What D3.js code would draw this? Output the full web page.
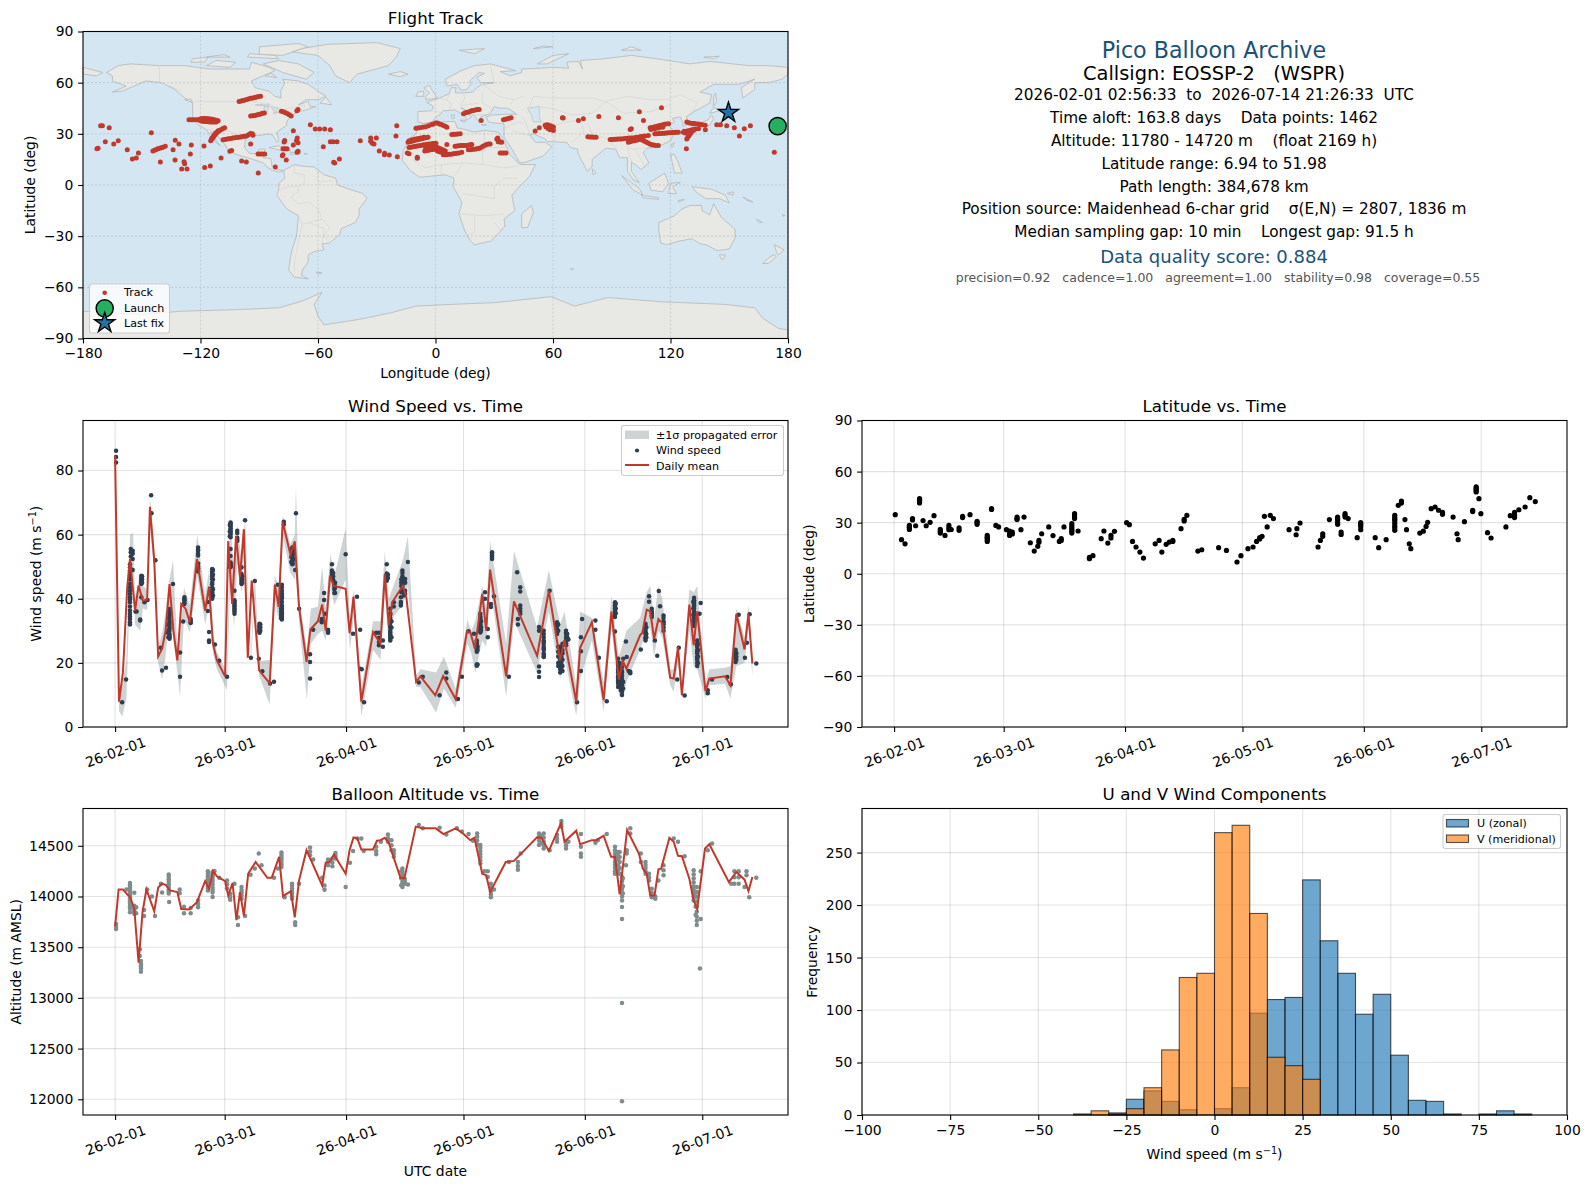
<!DOCTYPE html>
<html>
<head>
<meta charset="utf-8">
<script src="https://cdn.jsdelivr.net/npm/d3@7"></script>
<style>
  html, body { margin: 0; padding: 0; background: #fff; }
  svg text { font-family: "DejaVu Sans", sans-serif; fill: #000; }
</style>
</head>
<body>
<svg id="fig" width="1589" height="1189"></svg>
<script>
// ---- values ----
const dateTicks = ["2026-02-01", "2026-03-01", "2026-04-01", "2026-05-01", "2026-06-01", "2026-07-01"];
const lonTicks = [-180, -120, -60, 0, 60, 120, 180];
const latTicks = [-90, -60, -30, 0, 30, 60, 90];
const windTicks = [0, 20, 40, 60, 80];
const altTicks = [12000, 12500, 13000, 13500, 14000, 14500];
const histXTicks = [-100, -75, -50, -25, 0, 25, 50, 75, 100];
const histYTicks = [0, 50, 100, 150, 200, 250];

const infoLines = [
  "2026-02-01 02:56:33  to  2026-07-14 21:26:33  UTC",
  "Time aloft: 163.8 days    Data points: 1462",
  "Altitude: 11780 - 14720 m    (float 2169 h)",
  "Latitude range: 6.94 to 51.98",
  "Path length: 384,678 km",
  "Position source: Maidenhead 6-char grid    σ(E,N) = 2807, 1836 m",
  "Median sampling gap: 10 min    Longest gap: 91.5 h"
];

// flight track, lon lat pairs
const trackPoints = [
  [-100.3,49],[-99.3,49.3],[-98.3,49.6],[-97.3,49.9],[-96.3,50.2],[-95.3,50.5],[-94.3,50.8],[-93.3,51],[-92.3,51.3],[-91.3,51.6],[-90.3,51.9],[-89.3,52.1],
  [-94.4,40.4],[-93.4,40.6],[-92.4,40.8],[-91.4,41],[-90.4,41.4],[-89.4,41.7],[-88.4,42],[-87.4,42.2],
  [-78.7,43.3],[-77.7,42.9],[-76.7,42.4],[-75.7,41.9],[-74.7,41.2],[-73.7,40.5],[-70.2,44.3],[-70.8,43.6],
  [-125.9,38.2],[-124.9,38.3],[-123.9,38.3],[-122.9,38.2],[-121.9,38.2],[-120.9,38.2],[-119.9,38.9],[-118.9,39],[-117.9,39],[-116.9,39],[-115.9,38.9],[-114.9,38.7],[-113.9,38.5],[-112.9,38.2],[-111.9,38],[-111,37.6],
  [-120,37.6],[-119,37.4],[-118,37.2],[-117,37.2],[-116,37.1],[-115,37],[-114,37],[-113,37],[-112,37],
  [-114.8,26],[-114.3,26.8],[-113.8,27.6],[-113.3,28.4],[-112.8,29.2],[-112.2,30],[-111.6,30.8],[-111,31.4],[-110.2,32],[-109.4,32.6],[-108.6,33.2],[-107.7,33.5],[-114.2,27.4],[-113.2,29],[-112.2,30.5],[-111,31.8],
  [-108.5,26.5],[-107.5,26.7],[-106.5,27],[-105.5,27.1],[-104.5,27.3],[-103.5,27.5],[-102.5,27.7],[-101.5,27.9],[-100.5,28],[-99.5,28.2],[-98.5,28.4],[-97.5,28.6],[-96.5,28.8],[-95.5,29.5],[-94.5,30.2],[-93.5,30],[-93.2,29.2],
  [-170.1,34.7],[-171,34.7],[-166.6,33.5],[-172.3,21.6],[-172.9,21.2],[-168.6,25.3],[-164.3,24.1],[-162,25.9],[-157.4,20.6],[-154.8,15.3],[-152.8,15.9],[-151.7,18.8],[-145.1,30.6],[-144.3,20],[-143.5,20.4],[-142.6,20.8],[-141.8,21.2],[-140.9,21.6],[-140,21.9],[-139.2,22.2],[-138,22.7],[-140.5,13.5],[-134,20.6],[-132.9,26.3],[-131,24.1],[-133,14.7],[-128.4,13.7],[-128.1,12.4],[-129.6,9.4],[-126.9,9.4],[-125.2,18.2],[-124.7,23.5],[-118.2,22.9],[-117.9,10.2],[-115,11.2],[-109.5,15.9],[-104.1,20.2],[-105,19.8],[-99,14.1],[-96.6,13.5],[-94.4,24.1],[-90.6,18.2],[-89.5,18.2],[-88.4,18.2],[-87.2,18.2],[-90.5,7],[-81.8,10.6],
  [-77,26.1],[-77.3,25.2],[-72.6,31.8],[-72.6,23.5],[-70.6,27.6],[-70.2,24.7],[-71,26],[-77.9,21.2],[-76.9,21.2],[-75.8,21.2],[-77.9,17.8],[-78.2,17.2],[-76.2,14.7],[-70.7,19.2],[-70.2,19.8],[-63.9,35.3],[-61.4,32.9],[-59.2,32.9],[-56.6,32.9],[-53.7,32.4],[-57.3,22.4],[-53.7,25.3],[-52.3,25.3],[-50.3,25.3],[-52,13.3],[-51.5,12.9],[-49.1,15.3],[-38.4,25.9],[-33.1,27.6],[-33.1,25.7],[-32.3,24.5],[-31.4,24.1],[-30.2,27.6],[-28.7,20],[-26.1,17.8],[-26,18.6],[-23.6,17.6],[-19.8,34.7],[-20.2,28.8],[-19.5,16.5],
  [-14.4,18.8],[-13.5,18.3],[-9.3,16.3],[-9.3,15.7],
  [-10,33.3],[-9,33.4],[-8,33.6],[-6.5,33.8],[-5,34.2],[-3.5,34.7],[-2,35.5],[-1,35.8],[0,36.3],[1,36.3],[2,35.8],[3,35.4],[4,34.9],[5,34.4],[5.8,33.9],
  [-14,25],[-12.8,25.4],[-11.6,25.8],[-10.4,26.2],[-9.2,26.5],[-8,26.8],[-6.8,27.1],[-5.6,27.5],[-4.6,27.8],[-3.8,28],[-13.5,26],[-12,26.5],[-10.5,27],[-9,27.2],[-7.5,27.6],[-6,28],
  [-13.5,22],[-12.5,22.2],[-11.5,22.4],[-10.5,22.6],[-9.5,22.8],[-8.5,23],[-7.5,23.2],[-6.5,23.4],[-5.5,23.6],[-4.5,23.8],[-3.5,24],[-2.5,24.1],[-1.5,24.3],[-0.5,24.4],[0.2,24.5],
  [-5.5,20],[-4.5,20.2],[-3.5,20.4],[-2.5,20.6],[-1.5,20.8],[-0.5,21],[0.2,21.4],[-5,21.5],[-4,21.7],[-3,22],[-2,22],[-1,22.2],[0,22.2],[1,22],[2,21.5],[3,21],[4,20.5],[5,20],[1,20],[2,19.5],[3,19.2],[4,19],
  [4,17.8],[5,17.8],[6,17.9],[7,18],[8,18.1],[9,18.3],[10,18.4],[11,18.6],[12,18.8],[13.4,19.2],[5.8,23.7],
  [10,22.7],[11,22.9],[12,23],[13,23.1],[14,23.1],[15,23.2],[16,23.2],[17,23.4],[18,23.6],[18.5,23.7],
  [16.8,20.6],[18,20.7],[19,20.9],[20,21],[21,21.2],[22,21.4],[23,21.9],[24,22.6],[25,23.2],[26,23.7],[27,24],[27.9,24.1],
  [8.3,29.6],[9.3,29.7],[10.3,29.8],[11.3,29.9],[12.6,30],
  [14.3,41.8],[15.3,42.3],[16.3,42.7],[17.3,43],[18.3,43.5],[19.3,43.7],[20.3,44],[21.3,44.2],[22.3,44.3],[23.3,37.8],
  [34.7,38.2],[35.7,38.5],[36.7,38.8],[37.7,39.2],[38.6,39.4],
  [31.3,27],[31.8,27.6],[32.3,26],[33,25.2],[33.8,25],[32,25.4],[33,18.8],[34,18.8],[35,18.8],[36,18.8],
  [50.9,31.6],[53,33.5],[56,35],[57,35.3],[58,35],[59,34.6],[60.2,34],[56.5,34],[57.5,33.2],[58.5,32.4],[60.2,32],[64.8,39.4],[65.2,39.3],[73,37.8],[75.5,38.8],[83.4,40.2],[93.4,39.4],[104.1,43],[106.2,37.8],[115.4,45.3],[99.4,32.5],[100,33],
  [77.8,28.3],[78.8,28.2],[79.8,28.1],[80.8,28],[82,28],
  [89.2,26.7],[90.2,26.7],[91.2,26.8],[92.2,26.8],[93.2,26.9],[94.2,27],[95,27],[96,27.1],[97,27.3],[98,27.4],[99,27.5],[100,27.5],[101,27.6],[102,27.8],[103,28],[104,28.2],[105,28.4],[106,28.6],[107,28.8],[108.7,29],
  [98.5,25],[99.5,25.3],[100.5,25.8],[101.5,26],[102.5,26.2],[103.5,26.6],[104.5,27],[105.5,26.4],[106.5,25.8],[107.5,25.2],[108.5,24.6],[109.5,24],[110.5,23.6],[111.5,23.4],[112.5,23.2],[113.8,23.1],
  [109.6,33.5],[110.6,33.7],[111.6,34],[112.6,34.3],[113.6,34.6],[114.6,34.9],[115.6,35.2],[116.6,35.5],[117.6,35.7],[119,35.9],[110,32.5],[112,33],[114,33.4],[116,33.8],
  [112,30],[113,30],[114,30.2],[115,30.2],[116,30.4],[117,30.4],[118,30.5],[119,30.6],[120,30.6],[121,30.8],[122,30.8],[123,31],[124,31],
  [126.6,31],[127.6,31.3],[128.6,31.6],[129.6,32],[130.6,32.3],[131.6,32.6],[132.6,32.8],[134.3,33],
  [128.3,36.9],[129.3,36.5],[130.3,36.2],[131.3,36],[132.3,36],[133.3,35.8],[134.3,35.7],[135.3,35.5],[136.3,35.3],[137.7,35],
  [128.3,27],[128.8,28],[129.3,28.8],[129.8,29.6],[130.3,30.4],[130.8,31.2],[131.7,32],[127.5,30.5],[127,31.5],[128.1,21.2],
  [143.6,35.3],[145.5,35.3],[148.7,34.7],[152.6,33.5],[155.2,28.8],[157.7,33],[160.8,34.7],[173,19.2],[137.8,32.4]
];
const launchPoint = [174.7, 34.5];
const lastFixPoint = [149.6, 42.4];

// wind speed: day of flight, then the speeds seen in that column
const windDots = [
  [0.25,86.2,84.2,82.5],[1.8,7.7],[2.8,14.8],[3.8,50.8,49.8,48.8,48,47.2,46,44.6,43.6,42.5,41.5,40.5,39.8,38.9,37.6,36.3,35.3,34.5,33.7,32.7,32],[4,55.5,54.5,53.2],[4.5,55,54,52.4,49],
  [5.2,36],[5.5,36],[6.4,33.5,33.2],[6.7,47.2,46.5,46,45.5,45,44.6,40.5],[6.9,47,46,45],[7.5,38.9],[8.3,39.6],[9.2,72.3],[9.3,66.7],[10.3,52],[11.7,24.7],[12,17.6],[13,18.5],
  [13.9,36.8,36,35,34,33,32.2,31.5,30.8,30,29,28.5,28,27.5],[13.6,34,32,30,28],[13.4,29.5],[14.8,44.6],[16.6,23.2,15.7],[17.4,32.9],[17.7,40.5,39.8,39.5,38.8,38.4],[19.3,33.7,33.2,32.7,32.4],
  [21.2,56,55.3,55,54,53.5,51,50,49.5,49,48.5],[23.7,39,36.2],[24,29.6,27,26.5],[24.8,49.3,48.6,48,47.4,47,46.5,46,45,44.5,43.5,42.5,42,41.5,41,40.5,40],[25,49,47.5,46,43,41],[25.5,25.7],[26.6,20.7],[28.6,15.7],
  [29.5,63.8,63.4,63,62.5,62,61.5,61,60.5,60,59.2,55.5,53.3,51.3,50.9,50.5,50.2,49.8],[29.3,63,61,59.5,51,50],[30.5,42.5,39.5,39,38.5,38,37.5,37,36.5,36,35.3],[31.2,61.2,60.5,59,58.5,58],[32.3,49.8,47.7,47,46.5,46,45.5,45,44.6],[32.5,47,46,45],[33.2,64.5],
  [34.7,21.6],[35.7,45.5],[36.7,21.3],[36.9,32.2,31.8,31.4,31,30.6,30.2,29.8,29.4],[37.1,32,31,30],[37.6,17.4],[39.6,13.6],[40.6,14.1],[41.6,44.4],
  [42.6,44.4,43.5,42.5,41.7,41,40.5,40,39,38,37.5,37,36.5,36,35.5,35,34.5,34,33.5],[42.4,36,35,34,37],[43.1,64,63.2],[45.3,56,55.5,55,54.3,53.5,52.7,52,51.5,51,50.8],[45,55,53,51.5],[45.6,54,52.5,55],[46,49],[46.2,66.7],[47,36.9],[49.8,22.7,20.3,15.1],[50.6,30.3],
  [52.8,33.7,33.2,33,32.7],[53.4,41.8,39.6],[53.6,35.3],[54.4,30.3,29.8,29.4],[55.4,50.8,48.8,48.3,47.8,47.4,47,46.5],[55.7,48,47,46],[56,45.1,44.5,44,43,41.8],[56.2,45,43.5,41.8],[58.9,53.9],[60.8,29.1],[61.8,40.6],
  [62.6,30.3,18.2],[63,18],[63.6,7.7],[66.7,29.4],[67.4,29.4,27.8,26.5,25.5],[68.4,27,25],[69.4,50.8,47.9,47.4,47,46.5,46,45.6],[69.7,47.5,46.5],[70.3,36.9,35.5,35,34,33,32.5,31.5,31,30,29.5,29,28.5,28,27.5,27],[70.6,33,31,28],[71.2,38.9,37.6],
  [73,40.5,39,38.5,37.9],[73.4,48.8,48,47,46.5,46,45.5,45,44.5,44,43,42.5],[73.1,46,45,44,42],[74.1,46.2,45,42.5,41.5],[73.8,42,41],[74.8,51.5],[77.6,13.9],[78.6,15.7],
  [82.9,9.9],[84.6,17,15.1],[87.6,8.7],[88.6,15.7],[90.3,29.9],[91.7,29.1],[92.4,27,26.5,26,25.5,25,24.5,24,23.5,19.5,19.1],[92.6,25,24,19.5],[93.3,35.3,34.5,34,33.5,33,32.5,32,31.5,31,30.5,30,29.5],[93.5,33,31,30],[94.5,42,40],[95.2,30.6,28],
  [96,38.4,37.4],[96.3,54.5,54,53.5,53,52.4],[96.8,40.8],[100.6,15.7],[102.7,48.3],[102.9,33.7,32],[103.5,43.6,42.3,37.9,37,36,35.3],
  [108.3,31.2,30,18.9,17.2,15.6],[109.5,30,29,28,27,26.5,26,25,24.5,24,23,22.5,22,21.8],[111,42.5],[112.9,32.7,32,31.5,30.5,29.5,29],[113.2,32,30],[113.7,25,24,23,22,21,20,19,18,17],[113.2,25,23.5,22,20,19],[114.3,26,24,23,21,19,17.5],[114,24,22,20,18],
  [115.2,30,29.5,29,28,27,26,25.5],[115.5,29,28],[115.8,27.3],[118,7.7],[119,28,23.6,17.5],[119.3,33.7],[122.7,33.2,30.3],[123.6,21.6],[125.6,8],[127.7,38.9,38.4,38,37.5,37,36.5,36,35,34.3,29.8],[127.9,38.5,37,35.5],
  [128.5,21.3,20,19.4,19,18,17.5,17,16,15.5,15,14.5,14,13.5,12.5],[128.9,20,18.5,16.5,15,13.5],[129.5,18.7,17.5,17,16,15,14.5,13.5,13,12,11,10],[129.2,17,15,13,11.5],[129.8,21.3,14,12],[130.5,26.7],[130.7,21.8],[131.2,17.5],[131.6,17.2,16.8],[134.3,24.2],
  [135.5,32.2,31.5,31,30,29.5,29,28,27.5,27],[135.7,31,29,28],[136.4,40.8,39.1],[137.1,36.9,36,35.5,34.8,34.3],[137.9,27],[138.5,22.2],[138.9,42.4],[139.2,37.7],[140.1,34.8,34,33,32.5,32,31,30],
  [143.6,14.8],[144,24.7],[145.5,9.8],[147.9,40.3,39.5,39,38.5,38,37.5,37,36,35,34,33,32,31.5],[147.7,39,37,35],[148.7,27,26,25.5,25,24,23.5,23,22,21.5,21,20,19],[148.9,26,24,22,20],[149.3,35.3],[149.6,38.7],[151.4,11.5,10.5],[152.5,14.8],
  [156.4,15.6],[157.3,13.3],[158.5,24.1,23.5,23,22.5,22,21.3,20.3],[158.7,23,22,21],[159.3,35],[160.9,21.6],[161.4,26.3],[162.1,35.2],[163.8,19.8]
];

const windMeanDays = [0,1,2,3.1,3.8,5.1,6,7.1,8.2,8.9,10,11,12,12.9,13.9,14.9,15.9,16.9,18,19.1,20.9,23,24,25,26,28.1,28.9,29.9,30.9,31.9,32.9,33.9,34.9,36.8,39.5,40.8,41.8,42.8,44.8,45.9,47,48.9,49.9,51.8,52.9,53.8,54.9,55.8,58.9,59.9,60.9,62.9,65.9,67.8,68.9,69.9,70.8,73.5,74.4,76.9,78,81.8,83.8,87,89.9,90.8,91.9,93.8,94.8,95.8,99.9,101.9,107.8,110.8,113.7,114.8,117.8,118.8,121.8,124.8,126.8,128.7,129.7,130.6,134.1,134.7,135.8,136.7,137.7,138.8,139.8,141.8,142.7,143.8,144.8,146.7,147.8,148.7,150.8,151.8,155.8,157.2,158.7,160.8,161.8,162.8];
const windMean = [84.5,7.9,17,43.6,52.4,36.3,44.1,39.4,39.8,68.7,51.9,22,24.4,30,44.6,30,20.8,38.4,36.9,32.7,52.4,36.3,43.8,26,20.8,15.8,58,38.4,59.6,46.7,61.7,21.6,45.7,17.7,13.6,44.4,37.4,64,53.7,57.9,37.4,20.3,30.4,33,38.2,30.1,47.2,44.1,43.1,29.3,40.7,7.9,29.6,26,47.7,31.7,38.9,44.1,40.5,14.1,15.8,9.9,15.9,8.7,29.9,29.4,24.4,41.5,30.1,49.1,15.8,39.2,22.2,42.5,20.8,27.2,7.9,24.7,32.7,8.4,36,14.8,20.6,18.2,28.6,29.4,36.6,36.1,27.5,33.7,32.4,15.4,15.1,24.9,9.9,38.2,25.5,36.1,11.2,15.1,15.8,13,35.3,24.2,35.3,19.8];

const bandDays = [0,1,1.8,2.9,3.8,4.6,5.1,6.4,7.1,8.2,8.9,10,11,12,12.9,13.9,14.8,15.9,16.6,17.6,19.1,21,23,24,25,26,28.6,29.4,30.4,31.2,32.3,33.2,34.7,35.7,36.8,39.5,40.8,41.8,42.8,44.8,45.9,46.2,47,49,50,51.8,52.9,53.8,55,56,58.9,60,61,62.9,65.9,67.8,68.9,69.9,70.8,73.5,74.8,76.9,78,82,84,87,90,91,92,93.8,94.8,95.8,99.9,101.9,107.8,110.8,113.7,114.8,117.8,118.8,121.8,124.8,126.8,128.7,129.7,130.6,134.1,135.8,136.7,137.7,138.8,139.8,141.8,142.7,143.8,144.8,146.7,147.8,148.7,150.8,151.8,155.8,157.2,158.7,160.8,161.8,162.8];
const bandLow = [80,5,3.2,9,44,45,32,30,37,36.5,62,49,20,15,22,36,28,17,9.5,34,29.5,47,32,38,23,18,11.5,46,31,51,42,60,20.5,40,16,7,40,33,60,48,46,48,33,8.5,26,29,30,27,44,38,46,24,35,3.3,24,21,42,25,34,38,44,12.5,12.5,4.5,12,6,26,23,17,27,25,44,9.5,33,17,36,15,22,3.5,15,27,5,31,10,9,14,24,30,31,22,30,28,13,11,20,9,30,19,18,9,13,13.5,9,19,20,31,16];
const bandHigh = [91,11,13,21,60,60.5,40,48,44,43,72,55,25,29,36,46,52,25,29,43.5,38,60,41,49,29,23.5,17,66.5,46,63,52,65,23,48,20.5,21,47,44,66,57,60,75,40,24,37,37.5,50,37,54,47,62,33,43,12,33,33,55,40,43,52,59.5,16,18,17,22,12,33.5,30,33,44,37,58,26,55,31,49,32,36,13,36,34,14,41,22,26,30,34,42,44,34,44,40,18,18,26,12,43,42,44,14,18,18.5,19,37,28,38,20];

// latitude: day of flight, then the latitudes seen in that column
const latDots = [
  [0.3,34.7],[1.9,20],[2.8,17.6],[3.9,28.4,27.5,27,26],[4.7,32.4,31.6],[5.5,28.2],[6.5,44.1,43.5,43,42.3,41.6],[7.4,31.2],[8.2,28.2],[9.2,30.2],[10.2,34.1],[11.8,26.1,25,23.9],[13,22.5],[14,28.4,27,25.9],[14.6,26],
  [16.6,26.9,25.5],[17.5,33.7,33],[19.4,34.7],[21.2,30.8,30,29],[23.8,22.5,21.5,21,20,19],[24.9,37.8,38.2],[26,28.4],[26.7,27.5],[28.7,25.9],[29.5,25,23.7,22.5],[30.2,24.5,23.4],[31.4,33.3,32.5,31.8],[33.2,33.3],[32.4,25.9],[34.8,18.2],
  [35.8,13.3],[36.7,16.1],[37,19.6,18.5],[37.7,23.5],[39.5,27.5],[40.6,22.4],[42.2,19],[42.7,20.6,19.6],[43.4,27.5],[45.4,29.4,28,27,26,25,23.9],[46.1,35.3,34.5,33.5,32.4],[47,25.1],[49.9,8.8,9.6],[50.8,10.6],
  [52.9,20.6],[53.6,25.1],[54.6,18],[55.4,21,22.5],[56.3,24.9],[59.4,30],[60.1,28.8],[60.9,19],[61.8,15.7],[62.8,12.7],[63.7,9.2],[66.7,17.6],[67.7,19.6],[68.4,12.7],[69.5,17.3],[70.3,18.6],[71.2,19,19.6],
  [73.3,26.5],[74.1,31,32],[74.8,34.3],[77.6,13.3],[78.6,14.1],[82.9,15.3],[84.9,13.7],[87.6,6.9],[88.6,10.6],[90.4,14.7],[91.7,15.7],[92.6,19],[93.4,21.2,20.4],[94,22],[94.6,33.7],[95.3,27.5],[96.1,34.3],[96.9,32.4],
  [100.9,25.9],[102.7,22.9],[102.9,26.5],[103.7,29.8],[108.3,15.7],[108.9,19.6],[109.5,23.5,22],[111.2,31.8],[113.3,33.3,32.5,31.5,30,29],[114.2,24.5,23.1],[115.2,35.3,34.3,33.3],[116,32.4],[118.3,21.2],[119.2,30,29,27.8,25.9],
  [122.9,21.2],[123.8,15.3],[125.7,20],[127.9,34.3,33,32,31,29.5,28,27,25.5],[128.8,40.2],[129.6,42.7,41.5],[130.5,31.8],[130.9,25.9],[131.6,17.6],[132,14.7],[134.3,23.9],[135.2,25],[135.9,27.8],[136.3,30.2],
  [137.2,38.2],[138.2,39.2],[139.1,37.3],[140.1,34.9,36],[142.8,33.3],[143.8,23.5],[144.1,20],[145.7,30.6],[147.8,37.3,36.5],[148.7,51,50.3,49.5,48.8,48],[149.4,44.1],[149.9,35.3],[151.6,24.1],[152.5,21],
  [156.3,27.5],[157.4,34.1],[158.5,34.3,33,36],[159.6,37.6],[161.2,39.2],[162.4,44.7],[163.8,42.4]
];

// altitude
const altDots = [
  [0.25,13730,13700,13680],[2.9,14070],[3.8,14132,14110,14090,14070,14050,14030,14010,13990,13970,13950,13930,13905,13880,13845],[4.9,14036,13910,13890,13870,13850,13830],[5.4,13894,13834],[6.3,13480,13414],[6.6,13364,13340,13320,13305,13290,13258],[7.4,13868,13808],[8.2,14070],[9.4,14000],[10.2,13808],
  [12,14040],[11.7,14126],[13.7,14218,14195,14170,14145,14120,14095,14070,14050,14030],[13.8,13947],[16.5,14070,14033],[17.6,13900,13834],[19.3,13887,13834],[21.2,13960,13925,13895],[23.7,14248,14225,14200,14175,14150,14125,14100,14080,14060],[24.9,14240,14220,14200,14175,14150,14120,14090,14065,14040,13995],[25.4,14252],[26.6,14185],
  [28.6,14159,14120,14080],[29.4,14026,13995,13967],[30.5,14126],[31.4,13795,13719],[32.3,14093,14065,14040,14010,13977],[33.2,13808],[34.6,14215],[35.7,14275],[36.7,14424],[37.4,14308],[40.6,14185],[41.6,14275],[42.5,14434,14410,14390,14365,14340,14315,14290],[43.3,13993],
  [45.2,14126,14105,14080,14055,14030,14000,13977],[46,13745,13719],[47,14126],[49.8,14483,14445,14407],[50.6,14364],[52.9,14185],[53.5,14109,14066],[54.4,14364,14335,14308],[55.5,14374,14335,14298],[56.3,14430,14400,14374],[58.9,14093],[60,14334],[60.8,14450],[61.9,14573],[62.9,14573],[63.5,14450],
  [66.7,14490,14450,14417],[67.9,14540],[69.7,14612,14575,14540],[70.6,14556,14505,14457],[71.2,14457,14425,14391],[73.4,14275,14245,14220,14195,14175,14145,14120,14093],[73.1,14250,14180,14110],[74,14175,14150,14126],[74.8,14119],[77.6,14705],[78.6,14672],
  [82.9,14679],[84.6,14612],[87.3,14672],[88.6,14640],[90.3,14616],[91.4,14550],[92.5,14622,14590,14550,14507],[93.3,14507,14480,14450,14420,14390,14355,14325],[94.4,14248],[95.2,14248,14192],[96,14126,14090,14050,14020,13993],[96.8,14070],[100.6,14341],[102.9,14341,14300,14265],[103.6,14424],
  [108.3,14622,14590,14550,14507],[109.5,14622,14580,14540,14505,14473],[108.9,14600,14530],[111,14457],[112.9,14606,14570,14540],[114,14745,14715,14689],[115.2,14540,14505,14473],[115.8,14540],[119,14616,14490,14424,14391],[122.7,14530],[123.3,14556],[125.6,14616],
  [127.7,14490,14455,14420,14380,14340,14310,14280,14250,14225],[128.5,14440,14400,14360,14310,14258],[128.9,14440,14390,14340,14280,14225],[129.5,14192,14150,14110,14075,14040,14000,13960,13897,13778,12950,11980],[129.7,14180,14100,14030],[130.5,14308],[130.7,14457,14424],[131.6,14672,14622],[134.3,14424,14341],[135.5,14341,14310,14280,14250,14225],[136.4,14225,14190,14159],[137.1,14076,14035,13993],[138,13977,14000],[138.8,14159],[140.1,14308,14260,14209],
  [142.7,14573],[143.8,14540],[145.5,14397],[147.8,14258,14220,14180,14140,14100,14065,14030,13995,13960],[148.6,14093,14045,14000,13950,13900,13850,13800,13760,13719],[148.3,14000,13900,13820],[149.4,13291],[149.6,14248,13778],[151.4,14457],[152.5,14523],[157.4,14126],[158.2,14248,14190,14126],[159.3,14248,14190,14126],[160.8,14093],[161.3,14248,14209],[162,13993],[163.8,14185]
];

const altMeanDays = [0,0.9,2,3.1,3.8,4.9,6,7,8,10,11,12,12.9,14,15.9,16.9,18.9,20.9,23,24,25,26,28.1,28.9,30,31,31.9,32.9,34,35.9,38.9,40,41.9,42.9,44.9,45.9,47,48.9,52.9,53.8,54.8,55.9,58.9,59.9,60.9,61.9,62.9,65.9,66.9,67.8,68.9,69.9,72.9,73.9,76.8,78.6,81.9,83.9,87,88.9,90.7,91.8,93.8,94.8,95.8,99.8,101.9,107.8,108.9,110.8,113.9,114.8,117.8,118.8,121.8,122.9,124.8,126.7,127.7,128.9,130.8,133.8,134.8,135.8,136.7,137.8,138.8,139.5,141.6,142.7,143.8,144.8,146.7,147.8,148.7,150.7,151.8,156.8,158.7,160.8,161.8,162.8];
const altMean = [13705,14070,14070,14020,14000,13877,13348,13844,14070,13854,14089,14126,14116,14060,14043,13877,13871,13944,14152,14076,14252,14199,14152,14010,14132,13768,14043,13811,14225,14341,14185,14185,14391,14003,14053,13795,14159,14457,14109,14334,14341,14414,14225,14457,14583,14573,14464,14464,14550,14556,14579,14530,14185,14179,14689,14672,14672,14616,14672,14622,14556,14579,14225,14209,14043,14341,14351,14583,14579,14450,14722,14540,14649,14516,14556,14556,14599,14391,14391,14020,14656,14424,14275,14225,14010,14010,14268,14275,14579,14540,14401,14397,14175,13960,13877,14473,14516,14142,14242,14166,14053,14192];

// histogram, 5 m/s bins
const binEdges = [-40,-35,-30,-25,-20,-15,-10,-5,0,5,10,15,20,25,30,35,40,45,50,55,60,65,70,75,80,85,90];
const uCounts = [0,0,2,15,23,13,5,0,6,26,97,110,112,224,166,135,96,115,57,14,13,1,0,1,4,1];
const vCounts = [1,4,1,6,26,62,131,135,269,276,192,55,47,34,0,0,0,0,0,0,0,0,0,0,0,0];

// coastlines, lon lat pairs
const landShapes = [
  [[-168,66],[-162,70],[-156,71],[-141,70],[-128,70],[-115,68],[-108,68],[-95,68],[-94,72],[-85,69],[-82,67],[-88,64],[-94,61],[-92,57],[-85,55],[-82,52],[-79,51],[-79,55],[-77,60],[-78,62],[-70,61],[-65,59],[-60,55],[-56,52],[-60,50],[-66,50],[-70,47],[-65,49],[-64,46],[-61,46],[-66,44],[-70,43],[-74,40.5],[-76,37],[-76,35],[-81,31],[-80,26],[-81,25],[-83,29],[-85,30],[-90,29],[-94,29.5],[-97,27],[-97.5,22],[-95,18.5],[-91,18.5],[-90,21],[-87,21],[-88,16],[-84,15.5],[-83.5,11],[-81,9],[-77.5,8.5],[-80,7.5],[-83,8.5],[-86,10.5],[-88,13],[-92,14.5],[-96,16],[-102,18],[-106,21],[-109,26],[-113,31],[-115,31],[-112,26],[-110,23],[-112,25],[-115,29],[-117,32.5],[-121,35],[-124,40],[-124,48],[-128,51],[-133,56],[-140,60],[-148,61],[-154,58],[-160,55],[-165,54.5],[-158,58],[-165,61],[-165,64]],
  [[-80,73],[-70,71],[-62,66],[-66,62],[-72,64],[-78,66],[-88,71]],
  [[-117,70],[-105,69],[-102,72],[-112,73]],
  [[-90,76.5],[-78,76],[-65,81],[-70,83],[-90,81]],
  [[-125,72],[-118,72],[-116,75],[-124,74]],
  [[-96,75],[-80,74],[-82,76],[-95,77]],
  [[-117,75],[-105,75],[-108,76.5]],
  [[-87,64],[-81,63],[-84,65.5]],
  [[-128,50],[-124,48.5],[-125,50.5]],
  [[-59,48],[-53,47],[-56,51.5]],
  [[-73,78],[-60,76],[-54,70],[-51,64],[-44,60],[-40,65],[-24,70],[-20,75],[-18,80],[-30,83.5],[-55,82.5],[-68,80]],
  [[-77.5,8.5],[-72,12],[-68,11],[-62,10.5],[-57,6],[-51,4],[-50,0],[-44,-2.5],[-37,-5],[-35,-8],[-39,-14],[-39,-18],[-41,-22],[-48,-25.5],[-49,-29],[-54,-34],[-58,-34.5],[-57,-38],[-62,-39],[-65,-41],[-65,-45],[-68,-50],[-68.5,-53],[-65,-55],[-72,-54],[-75,-50],[-74,-42],[-73,-37],[-71,-30],[-70,-18],[-76,-14],[-81,-6],[-80,-2],[-80,1],[-77,4]],
  [[-6,36],[3,37],[10,37.3],[11,33.5],[15,32.5],[20,31],[25,32],[32,31],[34,28],[36,23],[38,18],[43,12],[51,12],[48,5],[42,-2],[39,-6],[40.5,-15],[35,-20],[35.5,-24],[32.5,-28],[28,-33],[20,-35],[18,-33],[15,-27],[12,-17],[13.5,-10],[9,-1],[9.5,4],[5,6],[-4,5],[-8,4.5],[-13,8.5],[-17,14.5],[-16.5,20],[-13,27.5],[-10,30],[-9,33]],
  [[-9,37],[-9,43],[-2,43.5],[-1,46],[-4.5,48.5],[2,51],[7,53.5],[8,57],[10.5,57],[10,54],[14,54],[19,54.5],[21,57],[24,59],[30,60],[23,60],[21,63],[25,65.5],[22,65.8],[17.5,61],[18,59],[16,56],[13,55.5],[11,59],[6,58],[5,62],[13,67],[20,70],[28,71],[41,67],[33,66.5],[38,64],[44,66],[44,68],[54,68.5],[60,69],[68,68.5],[67,72],[73,72.5],[75,68],[74,73],[86,74],[100,76],[113,74],[130,71],[140,72.5],[160,70],[170,70],[180,69],[180,65],[177,62],[170,60],[163,60],[163,56],[157,51],[156,57],[163,62],[155,59],[142,59],[135,54.5],[141,53],[140,48],[132,43],[128,40],[129.5,36],[126.5,34.5],[126,37.5],[125,40],[121,39],[122,37],[119,35],[122,31],[120,26],[114,22.5],[108,21.5],[106,19],[109,13],[105,9],[103,11],[100,13.5],[100,8],[104,1.5],[101,3],[98,8],[98,16],[94,16],[92,21],[87,21.5],[80,15],[80,11],[77.5,8],[73,18],[72.5,21],[69,22],[67,25],[57,25.5],[56,27],[50,30],[48,29.5],[51,25],[56,25],[59.5,22.5],[55,17],[45,13],[43,13],[39,21],[35,28],[35,36],[30,36.3],[27,37],[26,40],[29,41],[36,41.5],[41.5,41.5],[37,45],[33,45],[30,46],[28,42],[26,41],[23,40],[24,38],[22.5,36.5],[19.5,41],[13,45.5],[16,42],[18.5,40],[16,38],[15,40.5],[10,44],[4,43.5],[3,42],[0,39.5],[-2,37],[-6,36]],
  [[-180,69],[-175,67.5],[-170,66],[-173,64],[-180,65]],
  [[114,-22],[122,-18],[126,-14],[130,-12],[136,-12],[136,-15],[140,-17.5],[142,-11],[146,-19],[153,-26],[153,-31],[150,-37.5],[144,-38.5],[138,-35],[135,-34.5],[131,-31.5],[124,-33],[118,-35],[115,-34],[114,-27]],
  [[145,-41],[148,-41],[147,-43.5],[146,-43.5]],
  [[173,-35],[178,-38],[175,-41],[174,-39]],
  [[173,-41],[174,-42],[170,-46],[167,-46],[171,-42]],
  [[131,-1],[141,-2.5],[148,-6],[150,-10.5],[145,-8],[138,-8],[133,-4]],
  [[109,1],[117,7],[119,1],[116,-4],[110,-3]],
  [[95,5.5],[104,-2],[106,-6],[101,-3]],
  [[105,-6],[114,-7.5],[114,-8.5],[106,-7.5]],
  [[119,-5],[120,1],[125,1.5],[121,-1],[123,-5]],
  [[120,18],[122,18],[124,13],[126,7],[122,7],[121,13]],
  [[130,33],[135,34],[140,35],[142,39],[141,41],[139,38],[133,35.5]],
  [[140,42],[145,43.5],[142,45.5]],
  [[142,46],[143.5,49],[143,54],[142,52]],
  [[120,23],[122,25],[121,22]],
  [[80,9.5],[82,7],[80.5,6]],
  [[49,-12],[50,-16],[47,-25],[44,-25],[44,-17]],
  [[-5,50],[1,51],[-2,56],[-3,58.5],[-6,57],[-3,54],[-5,52]],
  [[-10,52],[-6,52],[-6,55],[-9,54.5]],
  [[-24,65],[-18,63.5],[-14,65],[-18,66.5]],
  [[-85,22],[-80,23],[-74,20],[-78,20]],
  [[-74,19],[-69,19.5],[-69,18],[-74,18]],
  [[-78,18.5],[-76.5,18],[-78,18]],
  [[-67,18.5],[-65.5,18.3],[-67,18]],
  [[-61,-51],[-58,-51.5],[-60,-52.3]],
  [[12,79],[25,80],[20,77]],
  [[52,71],[57,71],[68,77],[60,76]],
  [[50,80],[60,81],[55,81.5]],
  [[95,79],[105,79],[100,81]],
  [[137,75],[145,75.5],[142,74]],
  [[12.5,38],[15.5,38],[15,36.8]],
  [[8,41],[9.7,41],[9.5,39],[8.4,39]],
  [[23.5,35.5],[26,35.2],[24,35]],
  [[124,-9],[127,-8.5],[124,-10]],
  [[149,-5],[152,-4],[152,-6]],
  [[157,-7],[162,-10],[159,-9]],
  [[164,-20],[167,-22],[165,-21.8]],
  [[177,-17.5],[178.5,-17.8],[177.5,-18.3]],
  [[69,-49],[70.5,-49.3],[69.5,-49.8]],
  [[-180,-90],[-180,-74],[-150,-76],[-130,-74],[-100,-73],[-80,-72],[-68,-68],[-58,-63],[-62,-70],[-60,-77],[-57,-82],[-40,-79],[-23,-75],[-10,-71],[8,-70],[30,-69],[59,-65.5],[71,-71],[88,-66],[116,-68.5],[148,-70],[163,-72],[167,-78],[175,-84],[180,-85],[180,-90]]
];
const lakeShapes = [
  [[47,45],[53,46],[53,40],[54,37],[50,37],[49,41]],
  [[-92,47],[-85,47.5],[-85,46.5],[-90,46.5]],
  [[-87.5,46],[-85,46],[-86.5,42],[-87.5,42]],
  [[-84,46],[-80,45],[-82,43],[-83,44]],
  [[-83,42],[-79,43.5],[-76,44],[-79,42.7]]
];
const borderLines = [
  [[-123,49],[-95,49],[-89,48],[-83,46],[-82,43],[-79,43],[-75,45],[-70,46],[-67,47],[-67,45]],
  [[-141,70],[-141,60],[-135,58],[-130,55]],
  [[-117,32.5],[-106,31.8],[-101,29.5],[-97,26]],
  [[-72,12],[-72,7],[-67,6],[-67,1],[-70,-1],[-70,-4],[-74,-7],[-70,-11],[-65,-10],[-60,-14],[-58,-20],[-54,-25],[-57,-30],[-53.5,-33.5]],
  [[-70,-18],[-68,-23],[-70,-33],[-72,-45],[-72,-52]],
  [[-80,-3],[-75,-1],[-70,-1]],[[-60,8],[-60,2],[-52,2.5]],[[-68,-23],[-58,-20]],[[-65,-22],[-57,-25.5],[-58,-34]],
  [[-9,27.5],[-1,24],[3,19],[12,23],[25,20],[25,31.5]],[[25,22],[37,22]],[[-17,21],[-5,25]],[[-12,15],[-5,10],[3,12],[14,13],[24,12],[24,20]],
  [[3,12],[3,6.5]],[[14,13],[9,4.5]],[[24,12],[35,10],[42,11]],[[14,-5],[30,-8],[30,-1],[35,4],[42,4]],[[12,-17],[25,-18],[35,-17]],[[20,-18],[20,-28],[17,-29]],[[30,-22],[33,-26]],
  [[-2,43.5],[3,42.5]],[[2,51],[6,49.5],[8,47.5],[7,44]],[[7,53.5],[6,50]],[[14,54],[15,51],[13,47]],[[24,54],[24,48],[29,45]],[[22,48],[13,46.5]],[[30,60],[28,70]],[[24,59],[28,56],[32,52],[40,50],[38,47]],[[20,41],[26,41.5]],
  [[48,30],[46,37],[44,40]],[[35,33],[42,37],[45,36]],[[39,32],[48,29]],[[61,25],[61,35],[67,37],[74,38]],[[54,37],[61,36]],
  [[53,46],[62,44],[70,41],[80,42],[87,49],[98,52],[110,50],[118,50],[125,53],[134,48],[131,43]],[[87,49],[96,42],[110,43],[120,47]],[[74,37],[76,32],[70,25]],[[78,35],[80,30],[88,27],[97,28],[98,22],[102,21],[107,22]],[[60,51],[80,51],[87,49]],[[47,42],[50,52],[60,51]],[[45,52],[40,50]],[[88,27],[92,22]],[[98,22],[100,14]],[[102,21],[105,15],[107,11]]
];

// ---- styles ----
const RED = "#c0392b", NAVY = "#2c3e50", GREY = "#7f8c8d", TITLE_BLUE = "#1a5276";
const LEFT = { x0: 83, x1: 788 }, RIGHT = { x0: 862, x1: 1567 };
const ROW1 = { y0: 31.5, y1: 338.5 }, ROW2 = { y0: 420.5, y1: 727 }, ROW3 = { y0: 808.5, y1: 1115 };

const svg = d3.select("#fig");
svg.append("rect").attr("width", 1589).attr("height", 1189).attr("fill", "#fff");

const toDate = d => new Date(Date.UTC(2026, 1, 1) + d * 864e5);
const tickDates = dateTicks.map(s => new Date(s + "T00:00:00Z"));
const timeDomain = [toDate(-8.2), toDate(171.9)];

function gridLines(g, x, y, xVals, yVals, opts = {}) {
  const box = { x0: x.range()[0], x1: x.range()[1], y0: y.range()[1], y1: y.range()[0] };
  const grid = g.append("g").attr("stroke", opts.color || "#000").attr("stroke-opacity", opts.opacity || 0.115)
    .attr("stroke-width", 1.1).attr("stroke-dasharray", opts.dash || null);
  grid.selectAll(".gx").data(xVals).enter().append("line")
    .attr("x1", d => x(d)).attr("x2", d => x(d)).attr("y1", box.y0).attr("y2", box.y1);
  grid.selectAll(".gy").data(yVals).enter().append("line")
    .attr("y1", d => y(d)).attr("y2", d => y(d)).attr("x1", box.x0).attr("x2", box.x1);
}

function frame(x, y, xVals, yVals, xFormat, yFormat) {
  const bottom = y.range()[0], left = x.range()[0];
  const xAxis = d3.axisBottom(x).tickValues(xVals).tickFormat(xFormat).tickSize(4.9).tickPadding(4.8);
  const yAxis = d3.axisLeft(y).tickValues(yVals).tickFormat(yFormat).tickSize(4.9).tickPadding(4.8);
  const gx = svg.append("g").attr("transform", `translate(0,${bottom})`).call(xAxis);
  const gy = svg.append("g").attr("transform", `translate(${left},0)`).call(yAxis);
  [gx, gy].forEach(a => {
    a.selectAll("path").remove();
    a.selectAll("line").attr("stroke", "#000").attr("stroke-width", 1.1);
    a.selectAll("text").attr("font-size", 13.9).attr("font-family", "DejaVu Sans");
  });
  svg.append("rect").attr("x", left).attr("y", y.range()[1])
    .attr("width", x.range()[1] - left).attr("height", bottom - y.range()[1])
    .attr("fill", "none").attr("stroke", "#000").attr("stroke-width", 1.1);
  return gx;
}

function slantDates(gx) {
  gx.selectAll("text")
    .attr("text-anchor", "middle")
    .attr("dy", null)
    .attr("y", 0)
    .attr("transform", "translate(0,25) rotate(-20)")
    .attr("dominant-baseline", "central");
}

function title(cx, y, text) {
  svg.append("text").attr("x", cx).attr("y", y).attr("text-anchor", "middle").attr("font-size", 16.7).text(text);
}

function xLabel(cx, y, text) {
  return svg.append("text").attr("x", cx).attr("y", y).attr("text-anchor", "middle").attr("font-size", 13.9).text(text);
}

function yLabel(x, cy, text) {
  return svg.append("text").attr("transform", `translate(${x},${cy}) rotate(-90)`).attr("text-anchor", "middle").attr("font-size", 13.9).text(text);
}

function unitLabel(sel, before) {
  sel.text(before + " (m s");
  sel.append("tspan").attr("dy", -5).attr("font-size", 9.7).text("−1");
  sel.append("tspan").attr("dy", 5).text(")");
}

function legendBox(x, y, w, h) {
  svg.append("rect").attr("x", x).attr("y", y).attr("width", w).attr("height", h).attr("rx", 2.5)
    .attr("fill", "#fff").attr("fill-opacity", 0.8).attr("stroke", "#ccc").attr("stroke-width", 1.1);
}

function legendText(x, y, text) {
  svg.append("text").attr("x", x).attr("y", y).attr("font-size", 11.1).attr("dominant-baseline", "central").text(text);
}

function dots(rows, x, y, r, color) {
  const flat = rows.flatMap(row => row.slice(1).map(v => [row[0], v]));
  svg.append("g").selectAll("circle").data(flat).enter().append("circle")
    .attr("cx", d => x(toDate(d[0]))).attr("cy", d => y(d[1])).attr("r", r).attr("fill", color);
}

// ---- flight track ----
{
  const x = d3.scaleLinear().domain([-180, 180]).range([LEFT.x0, LEFT.x1]);
  const y = d3.scaleLinear().domain([-90, 90]).range([ROW1.y1, ROW1.y0]);
  const g = svg.append("g");
  g.append("rect").attr("x", LEFT.x0).attr("y", ROW1.y0).attr("width", LEFT.x1 - LEFT.x0).attr("height", ROW1.y1 - ROW1.y0).attr("fill", "#d4e6f1");
  const line = d3.line().x(d => x(d[0])).y(d => y(d[1]));
  g.selectAll(".land").data(landShapes).enter().append("path")
    .attr("d", d => line(d) + "Z").attr("fill", "#e8e8e4").attr("stroke", "#b4b8ba").attr("stroke-width", 0.8);
  g.selectAll(".lake").data(lakeShapes).enter().append("path")
    .attr("d", d => line(d) + "Z").attr("fill", "#d4e6f1").attr("stroke", "#b4b8ba").attr("stroke-width", 0.6);
  g.selectAll(".border").data(borderLines).enter().append("path")
    .attr("d", line).attr("fill", "none").attr("stroke", "#d6d6d4").attr("stroke-width", 0.7);
  gridLines(g, x, y, lonTicks, latTicks, { color: "#7f8c8d", opacity: 0.24, dash: "2,2" });

  g.selectAll(".track").data(trackPoints).enter().append("circle")
    .attr("cx", d => x(d[0])).attr("cy", d => y(d[1])).attr("r", 2.5).attr("fill", RED);
  g.append("circle").attr("cx", x(launchPoint[0])).attr("cy", y(launchPoint[1])).attr("r", 8.6)
    .attr("fill", "#27ae60").attr("stroke", "#000").attr("stroke-width", 1.4);
  const star = d3.symbol().type(d3.symbolStar).size(125);
  g.append("path").attr("d", star()).attr("transform", `translate(${x(lastFixPoint[0])},${y(lastFixPoint[1])})`)
    .attr("fill", "#2471a3").attr("stroke", "#000").attr("stroke-width", 1.4);

  frame(x, y, lonTicks, latTicks, d3.format("d"), d3.format("d"));
  title((LEFT.x0 + LEFT.x1) / 2, 23.5, "Flight Track");
  xLabel((LEFT.x0 + LEFT.x1) / 2, 378, "Longitude (deg)");
  yLabel(35, (ROW1.y0 + ROW1.y1) / 2, "Latitude (deg)");

  legendBox(89.5, 284, 80, 49);
  svg.append("circle").attr("cx", 104.7).attr("cy", 292.7).attr("r", 2.3).attr("fill", RED);
  svg.append("circle").attr("cx", 104.7).attr("cy", 308.3).attr("r", 8.6).attr("fill", "#27ae60").attr("stroke", "#000").attr("stroke-width", 1.4);
  svg.append("path").attr("d", star()).attr("transform", "translate(104.7,323)").attr("fill", "#2471a3").attr("stroke", "#000").attr("stroke-width", 1.4);
  legendText(124, 292.7, "Track");
  legendText(124, 308.3, "Launch");
  legendText(124, 323, "Last fix");
}

// ---- summary text ----
{
  const cx = 1214;
  const put = (y, text, size, color, at = cx) => svg.append("text").attr("x", at).attr("y", y).attr("text-anchor", "middle")
    .attr("font-size", size).style("fill", color).style("white-space", "pre").text(text);
  put(58, "Pico Balloon Archive", 22.2, TITLE_BLUE);
  put(79.5, "Callsign: EOSSP-2   (WSPR)", 19.4, "#000");
  const lineY = [99.5, 122.5, 145.5, 168.5, 191.5, 214, 237];
  infoLines.forEach((t, i) => put(lineY[i], t, 15.3, "#000"));
  put(263, "Data quality score: 0.884", 18, TITLE_BLUE);
  put(282, "precision=0.92   cadence=1.00   agreement=1.00   stability=0.98   coverage=0.55", 12.5, "#555", 1218);
}

// ---- wind speed ----
{
  const x = d3.scaleUtc().domain(timeDomain).range([LEFT.x0, LEFT.x1]);
  const y = d3.scaleLinear().domain([0, 95.6]).range([ROW2.y1, ROW2.y0]);
  const g = svg.append("g");
  gridLines(g, x, y, tickDates, windTicks);
  const area = d3.area().x(d => x(toDate(d[0]))).y0(d => y(d[1])).y1(d => y(d[2]));
  g.append("path").datum(d3.zip(bandDays, bandLow, bandHigh)).attr("d", area).attr("fill", GREY).attr("fill-opacity", 0.38);
  dots(windDots, x, y, 2.25, NAVY);
  const line = d3.line().x(d => x(toDate(d[0]))).y(d => y(d[1]));
  svg.append("path").datum(d3.zip(windMeanDays, windMean)).attr("d", line).attr("fill", "none").attr("stroke", RED).attr("stroke-width", 2);

  slantDates(frame(x, y, tickDates, windTicks, d3.utcFormat("%y-%m-%d"), d3.format("d")));
  title((LEFT.x0 + LEFT.x1) / 2, 412, "Wind Speed vs. Time");
  unitLabel(yLabel(41, (ROW2.y0 + ROW2.y1) / 2, ""), "Wind speed");

  legendBox(621.5, 425.5, 162, 50);
  svg.append("rect").attr("x", 625).attr("y", 430.5).attr("width", 24).attr("height", 8.5).attr("fill", GREY).attr("fill-opacity", 0.38);
  svg.append("circle").attr("cx", 637).attr("cy", 450.5).attr("r", 2.1).attr("fill", NAVY);
  svg.append("line").attr("x1", 625).attr("x2", 649).attr("y1", 465).attr("y2", 465).attr("stroke", RED).attr("stroke-width", 2);
  legendText(656, 435.5, "±1σ propagated error");
  legendText(656, 450.5, "Wind speed");
  legendText(656, 466, "Daily mean");
}

// ---- latitude ----
{
  const x = d3.scaleUtc().domain(timeDomain).range([RIGHT.x0, RIGHT.x1]);
  const y = d3.scaleLinear().domain([-90, 90]).range([ROW2.y1, ROW2.y0]);
  const g = svg.append("g");
  gridLines(g, x, y, tickDates, latTicks);
  dots(latDots, x, y, 2.6, "#000");
  slantDates(frame(x, y, tickDates, latTicks, d3.utcFormat("%y-%m-%d"), d3.format("d")));
  title((RIGHT.x0 + RIGHT.x1) / 2, 412, "Latitude vs. Time");
  yLabel(814, (ROW2.y0 + ROW2.y1) / 2, "Latitude (deg)");
}

// ---- altitude ----
{
  const x = d3.scaleUtc().domain(timeDomain).range([LEFT.x0, LEFT.x1]);
  const y = d3.scaleLinear().domain([11845, 14868]).range([ROW3.y1, ROW3.y0]);
  const g = svg.append("g");
  gridLines(g, x, y, tickDates, altTicks);
  dots(altDots, x, y, 2.25, GREY);
  const line = d3.line().x(d => x(toDate(d[0]))).y(d => y(d[1]));
  svg.append("path").datum(d3.zip(altMeanDays, altMean)).attr("d", line).attr("fill", "none").attr("stroke", RED).attr("stroke-width", 2);
  slantDates(frame(x, y, tickDates, altTicks, d3.utcFormat("%y-%m-%d"), d3.format("d")));
  title((LEFT.x0 + LEFT.x1) / 2, 800, "Balloon Altitude vs. Time");
  xLabel((LEFT.x0 + LEFT.x1) / 2, 1176, "UTC date");
  yLabel(21, (ROW3.y0 + ROW3.y1) / 2, "Altitude (m AMSL)");
}

// ---- wind components ----
{
  const x = d3.scaleLinear().domain([-100, 100]).range([RIGHT.x0, RIGHT.x1]);
  const y = d3.scaleLinear().domain([0, 292]).range([ROW3.y1, ROW3.y0]);
  const g = svg.append("g");
  gridLines(g, x, y, histXTicks, histYTicks);
  const bars = (counts, color) => {
    const rows = counts.map((c, i) => ({ a: binEdges[i], b: binEdges[i + 1], c })).filter(d => d.c > 0);
    svg.append("g").selectAll("rect").data(rows).enter().append("rect")
      .attr("x", d => x(d.a)).attr("width", d => x(d.b) - x(d.a))
      .attr("y", d => y(d.c)).attr("height", d => y(0) - y(d.c))
      .attr("fill", color).attr("fill-opacity", 0.65)
      .attr("stroke", "#000").attr("stroke-opacity", 0.65).attr("stroke-width", 1.1);
  };
  bars(uCounts, "#1f77b4");
  bars(vCounts, "#ff7f0e");
  frame(x, y, histXTicks, histYTicks, d3.format("d"), d3.format("d"));
  title((RIGHT.x0 + RIGHT.x1) / 2, 800, "U and V Wind Components");
  unitLabel(xLabel((RIGHT.x0 + RIGHT.x1) / 2, 1159, ""), "Wind speed");
  yLabel(817, (ROW3.y0 + ROW3.y1) / 2, "Frequency");

  legendBox(1443, 814.5, 117.5, 34);
  [["#1f77b4", 819.5, "U (zonal)"], ["#ff7f0e", 835, "V (meridional)"]].forEach(([c, top, t]) => {
    svg.append("rect").attr("x", 1446.5).attr("y", top).attr("width", 22).attr("height", 7.5)
      .attr("fill", c).attr("fill-opacity", 0.65).attr("stroke", "#000").attr("stroke-opacity", 0.65).attr("stroke-width", 1.1);
    legendText(1477, top + 4, t);
  });
}
</script>
</body>
</html>
